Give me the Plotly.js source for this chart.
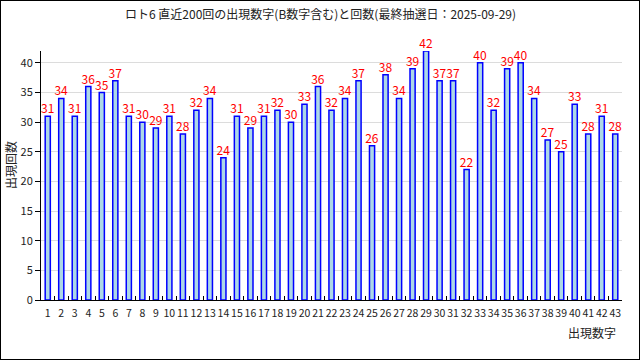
<!DOCTYPE html>
<html><head><meta charset="utf-8">
<script src="https://cdn.plot.ly/plotly-3.0.1.min.js"></script>
<style>
html,body{margin:0;padding:0;background:#fff;}
#frame{position:absolute;left:0;top:0;width:638px;height:358px;border:1px solid #000;}
#chart{position:absolute;left:-1px;top:-1px;width:640px;height:360px;}
</style></head>
<body><div id="frame"><div id="chart"></div></div>
<script>
const numbers = ["1","2","3","4","5","6","7","8","9","10","11","12","13","14","15","16","17","18","19","20","21","22","23","24","25","26","27","28","29","30","31","32","33","34","35","36","37","38","39","40","41","42","43"];
const counts = [31,34,31,36,35,37,31,30,29,31,28,32,34,24,31,29,31,32,30,33,36,32,34,37,26,38,34,39,42,37,37,22,40,32,39,40,34,27,25,33,28,31,28];
const yTicks = [0,5,10,15,20,25,30,35,40];
const titleText = "ロト6 直近200回の出現数字(B数字含む)と回数(最終抽選日：2025-09-29)";
const font = "Noto Sans CJK JP, DejaVu Sans, sans-serif";

Plotly.newPlot('chart', [{
  type: 'bar',
  x: numbers,
  y: counts,
  width: 0.38,
  marker: {color: '#add8e6', line: {color: '#0000ff', width: 1.5}},
  text: counts.map(String),
  textposition: 'outside',
  constraintext: 'none',
  cliponaxis: false,
  textfont: {color: '#ff0000', size: 12, family: font},
  hoverinfo: 'none'
}], {
  width: 640, height: 360,
  margin: {l: 41, r: 18, t: 51, b: 60},
  paper_bgcolor: 'rgba(0,0,0,0)',
  plot_bgcolor: '#fff',
  showlegend: false,
  font: {family: font, size: 11, color: '#222'},
  xaxis: {
    type: 'category',
    range: [-0.5, 42.5],
    showline: true, linecolor: '#000', linewidth: 1,
    ticks: 'inside', tickson: 'boundaries', ticklen: 4, tickcolor: '#000',
    tickangle: 0, ticklabelstandoff: 3,
    showgrid: false, zeroline: false,
    tickfont: {size: 10.5, family: font, color: '#222'}
  },
  yaxis: {
    range: [0, 42],
    tickvals: yTicks,
    showline: true, linecolor: '#000', linewidth: 1,
    ticks: 'outside', ticklen: 5, tickcolor: '#000',
    showgrid: true, gridcolor: '#dcdcdc', zeroline: false,
    tickfont: {size: 11, family: font, color: '#222'}
  },
  annotations: [
    {text: titleText, xref: 'paper', yref: 'paper', x: (320-41)/581, y: (300-13)/249,
     xanchor: 'center', yanchor: 'middle', showarrow: false, font: {size: 12, family: font, color: '#222'}},
    {text: '出現回数', xref: 'paper', yref: 'paper', x: (10-41)/581, y: (300-165)/249,
     xanchor: 'center', yanchor: 'middle', textangle: -90, showarrow: false, font: {size: 12, family: font, color: '#222'}},
    {text: '出現数字', xref: 'paper', yref: 'paper', x: (618-41)/581, y: (300-322)/249,
     xanchor: 'right', yanchor: 'top', showarrow: false, font: {size: 12, family: font, color: '#222'}}
  ]
}, {staticPlot: true});
</script></body></html>
